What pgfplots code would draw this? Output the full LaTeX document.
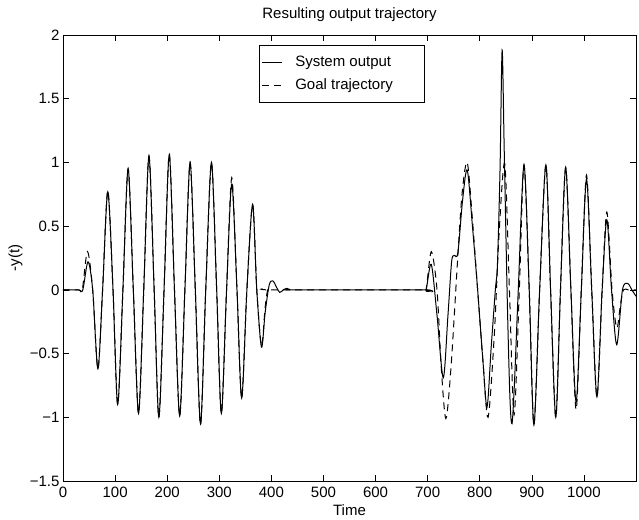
\documentclass[border=0pt]{standalone}
\usepackage{fontspec}
\setmainfont{Liberation Sans}
\usepackage{pgfplots}
\pgfplotsset{compat=1.18}
\newcommand{\lf}{\fontsize{15}{17}\selectfont}
\begin{document}
\begin{tikzpicture}
\path[use as bounding box] (0pt,0pt) rectangle (639pt,519pt);
\begin{axis}[
  at={(63pt,38pt)}, anchor=south west,
  scale only axis, width=573pt, height=446pt,
  xmin=0, xmax=1100, ymin=-1.5, ymax=2,
  xtick={0,100,200,300,400,500,600,700,800,900,1000},
  xticklabels={0,100,200,300,400,500,600,700,800,900,1000},
  ytick={-1.5,-1,-0.5,0,0.5,1,1.5,2},
  yticklabels={−1.5,−1,−0.5,0,0.5,1,1.5,2},
  tick align=inside, major tick length=6pt,
  tick style={black, line width=0.6pt},
  axis line style={black, line width=0.6pt},
  every tick label/.append style={font=\lf},
  xticklabel style={yshift=-2pt},
  title={Resulting output trajectory},
  title style={font=\lf, at={(axis description cs:0.5,1.05)}, anchor=center, yshift=-8pt},
  xlabel={Time},
  xlabel style={font=\lf, at={(axis description cs:0.5,-0.065)}, anchor=center},
  ylabel={-y(t)},
  ylabel style={font=\lf, at={(axis description cs:-0.083,0.5)}, anchor=center},
  legend image code/.code={\draw[#1] (0pt,0pt) -- (20pt,0pt);},
  legend style={at={(axis description cs:0.342,0.978)}, anchor=north west,
    draw=black, line width=0.6pt, font=\lf, inner xsep=2pt, inner ysep=9pt,
    nodes={inner sep=2pt}, column sep=11pt, row sep=7pt, cells={anchor=west}},
]
\addplot[black, line width=1pt, smooth] coordinates {
(0,0) (30,0) (38,0) (48,0.22) (57,0) (67,-0.62) (76,0) (86,0.77) (96,0) (105,-0.90)
(115,0) (125,0.95) (135,0) (145,-0.97) (155,0) (165,1.05) (175,0) (184,-1.00) (194,0)
(204,1.06) (214,0) (224,-0.99) (234,0) (244,1.00) (254,0) (264,-1.05) (274,0) (285,1.00)
(295,0) (304,-0.97) (314,0) (324,0.83) (334,0) (343,-0.85) (353,0) (364,0.67) (372,0)
(381,-0.45) (388,-0.18) (396,0.04) (403,0.07) (410,0.02) (416,-0.02) (423,0) (429,0.012)
(437,0) (445,0) (690,0) (697,0) (707,0.20) (718,-0.2) (730,-0.69) (739,-0.2) (746,0.22)
(751,0.27) (758,0.29) (767,0.7) (776,0.94) (786,0.5) (796,0) (806,-0.55) (814,-0.92)
(822,-0.45) (830,0.0) (834,0.2) (839,0.95) (843,1.88) (847,1.1) (853,-0.1) (858,-0.85)
(862,-1.05) (867,-0.7) (874,0) (885,0.98) (895,0) (904,-1.06) (915,0) (927,0.98) (936,0)
(946,-1.00) (955,0) (965,0.96) (975,0) (985,-0.88) (995,0) (1005,0.87) (1015,0)
(1025,-0.84) (1035,0) (1044,0.55) (1053,0) (1063,-0.43) (1074,0) (1084,0.05) (1092,0.0)
(1100,-0.05)
};
\addlegendentry{System output}
\addplot[black, line width=1pt, smooth, dash pattern=on 7pt off 5pt] coordinates {
(0,0) (30,0) (37,0) (47,0.30) (57,0) (67,-0.62) (76,0) (86,0.78) (96,0) (105,-0.90)
(115,0) (125,0.95) (135,0) (145,-0.97) (155,0) (165,1.05) (175,0) (184,-1.00) (194,0)
(204,1.07) (214,0) (224,-0.99) (234,0) (244,1.00) (254,0) (264,-1.06) (274,0) (285,1.00)
(295,0) (304,-0.97) (314,0) (324,0.88) (334,0) (343,-0.85) (353,0) (364,0.67) (372,0)
(381,-0.44) (388,-0.14) (393,0) (400,0) (690,0) (697,0) (707,0.30) (718,0) (726,-0.6)
(735,-1.01) (745,-0.6) (757,0.2) (766,0.75) (776,1.00) (786,0.55) (796,0) (806,-0.55)
(816,-1.00) (828,-0.35) (837,0.43) (848,0.99) (857,0) (866,-0.98) (876,0) (885,0.98)
(895,0) (904,-1.06) (915,0) (927,0.98) (936,0) (946,-1.00) (955,0) (965,0.96) (975,0)
(985,-0.94) (995,0) (1005,0.90) (1015,0) (1025,-0.84) (1035,0) (1044,0.61) (1054,0)
(1063,-0.30) (1070,-0.12) (1076,0) (1085,0) (1100,0)
};
\addlegendentry{Goal trajectory\hspace*{27pt}}
\end{axis}
\end{tikzpicture}
\end{document}
